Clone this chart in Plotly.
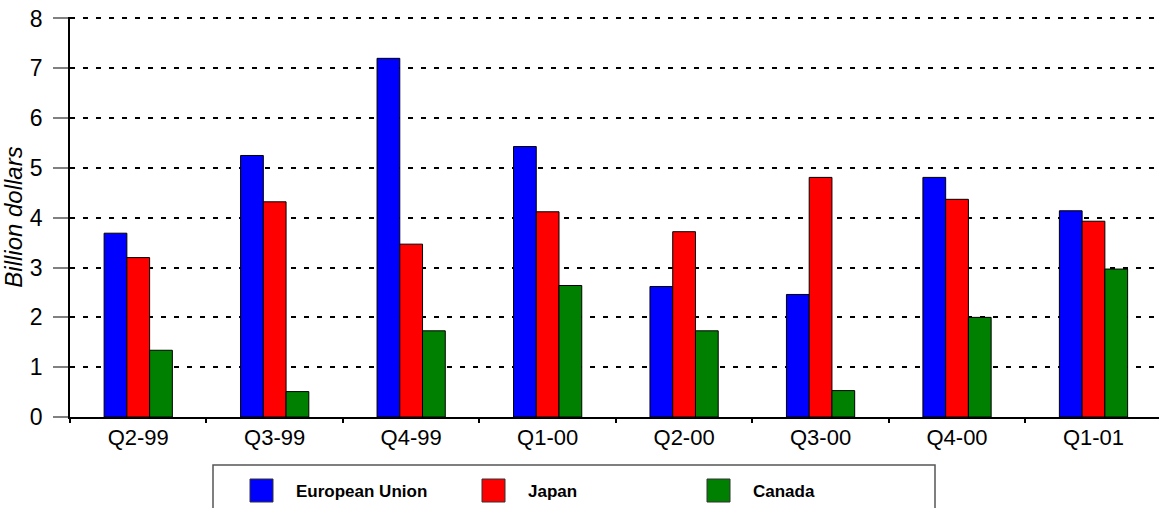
import plotly.graph_objects as go

quarters = ["Q2-99", "Q3-99", "Q4-99", "Q1-00", "Q2-00", "Q3-00", "Q4-00", "Q1-01"]
european_union = [3.69, 5.25, 7.20, 5.43, 2.62, 2.46, 4.81, 4.14]
japan = [3.20, 4.32, 3.47, 4.12, 3.72, 4.81, 4.37, 3.93]
canada = [1.34, 0.51, 1.73, 2.64, 1.73, 0.53, 2.00, 2.97]

series_names = ["European Union", "Japan", "Canada"]
series_values = [european_union, japan, canada]
series_colors = ["#0000FF", "#FF0000", "#008000"]

W, H = 1159, 508
ML, MR, MT, MB = 70, 0, 17, 91
PW, PH = W - ML - MR, H - MT - MB

FONT = "Liberation Sans, Arial, sans-serif"

fig = go.Figure()
for name, vals, col in zip(series_names, series_values, series_colors):
    fig.add_trace(go.Bar(
        x=quarters, y=vals, name=name,
        marker=dict(color=col, line=dict(color="black", width=1)),
        showlegend=False,
    ))


def px_x(p):
    return (p - ML) / PW


def px_y(p):
    return (H - MB - p) / PH


shapes = []
annotations = []

# legend frame below the plot
shapes.append(dict(type="rect", xref="paper", yref="paper",
                   x0=px_x(213), x1=px_x(935), y0=px_y(520), y1=px_y(465),
                   line=dict(color="#555555", width=1.5), fillcolor="white", layer="above"))

legend_x = [250, 482, 707]
for lx, name, col in zip(legend_x, series_names, series_colors):
    shapes.append(dict(type="rect", xref="paper", yref="paper",
                       x0=px_x(lx), x1=px_x(lx + 23), y0=px_y(502), y1=px_y(479),
                       line=dict(color="#333333", width=1), fillcolor=col, layer="above"))
    annotations.append(dict(xref="paper", yref="paper", x=px_x(lx + 44), y=px_y(491),
                            text=name, showarrow=False, xanchor="left", yanchor="middle",
                            font=dict(family=FONT, size=17, color="black", weight="bold")))

fig.update_layout(
    width=W, height=H,
    margin=dict(l=ML, r=MR, t=MT, b=MB, pad=0),
    paper_bgcolor="white", plot_bgcolor="white",
    barmode="group", bargap=0.5, bargroupgap=0,
    shapes=shapes, annotations=annotations,
    font=dict(family=FONT, color="black"),
)

fig.update_xaxes(
    type="category", range=[-0.5, 7.48],
    showline=True, linecolor="black", linewidth=2,
    ticks="outside", tickson="boundaries", ticklen=4, tickcolor="black", tickwidth=1.5,
    tickfont=dict(family=FONT, size=22, color="black"),
    showgrid=False,
)

fig.update_yaxes(
    range=[0, 8.03], tickmode="array", tickvals=list(range(0, 9)),
    showline=True, linecolor="black", linewidth=1.5,
    ticks="outside", ticklen=15, tickcolor="#808080", tickwidth=1.5,
    tickfont=dict(family=FONT, size=23, color="black"),
    ticklabelstandoff=6,
    showgrid=True, gridcolor="black", gridwidth=2, griddash="5px,8px",
    zeroline=False,
    title=dict(text="<i>Billion dollars</i>", font=dict(family=FONT, size=24, color="black"),
               standoff=3),
)

fig.write_html("out.html")
